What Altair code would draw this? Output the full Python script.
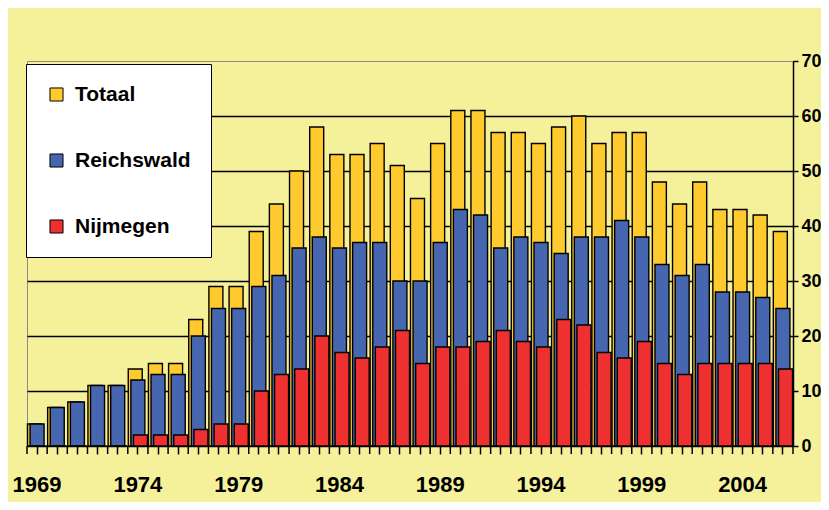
import altair as alt
import pandas as pd

years = list(range(1969, 2007))
totaal = [4, 7, 8, 11, 11, 14, 15, 15, 23, 29, 29, 39, 44, 50, 58, 53, 53, 55, 51, 45,
          55, 61, 61, 57, 57, 55, 58, 60, 55, 57, 57, 48, 44, 48, 43, 43, 42, 39]
reichswald = [4, 7, 8, 11, 11, 12, 13, 13, 20, 25, 25, 29, 31, 36, 38, 36, 37, 37, 30, 30,
              37, 43, 42, 36, 38, 37, 35, 38, 38, 41, 38, 33, 31, 33, 28, 28, 27, 25]
nijmegen = [0, 0, 0, 0, 0, 2, 2, 2, 3, 4, 4, 10, 13, 14, 20, 17, 16, 18, 21, 15,
            18, 18, 19, 21, 19, 18, 23, 22, 17, 16, 19, 15, 13, 15, 15, 15, 15, 14]

series = ["Totaal", "Reichswald", "Nijmegen"]
colors = ["#FFCA2E", "#4766B0", "#EE3030"]

df = pd.DataFrame({"year": years, "Totaal": totaal, "Reichswald": reichswald, "Nijmegen": nijmegen})

BG = "#F5F19B"
FONT = "Liberation Sans, Arial, sans-serif"
W, H = 766, 385

color_scale = alt.Scale(domain=series, range=colors)
x_scale = alt.Scale(paddingInner=0, paddingOuter=0)

x_axis = alt.Axis(
    title=None, labelAngle=0,
    labelExpr="(toNumber(datum.value) - 1969) % 5 == 0 ? datum.label : ''",
    labelFont=FONT, labelFontSize=22, labelFontWeight="bold", labelColor="black",
    tickColor="black", tickSize=8, tickWidth=1.5, ticks=True,
    domainColor="black", domainWidth=1.5, labelPadding=20, grid=False,
)

y_axis = alt.Axis(
    title=None, orient="right", values=list(range(0, 71, 10)),
    labelFont=FONT, labelFontSize=18, labelFontWeight="bold", labelColor="black",
    tickColor="black", tickSize=5, tickWidth=1.5, domainColor="black", domainWidth=1.5,
    labelPadding=3, grid=True, gridColor="black", gridWidth=1.5,
    gridOpacity={"condition": {"test": "datum.value == 0 || datum.value == 70", "value": 0}, "value": 1},
)

legend = alt.Legend(
    title=None, orient="none", legendX=-1, legendY=3,
    fillColor="white", strokeColor="black", padding=20,
    labelFont=FONT, labelFontSize=21,
    labelFontWeight="bold", labelColor="black", labelOffset=8,
    symbolType="square", symbolSize=170, symbolStrokeColor="black",
    symbolStrokeWidth=1, rowPadding=44, symbolOpacity=1,
)

offsets = [-2.6, 0, 2.6]
layers = []
for i, s in enumerate(series):
    layers.append(
        alt.Chart(df).transform_calculate(reeks=f"'{s}'")
        .mark_bar(width=14, xOffset=offsets[i], stroke="black", strokeWidth=1.4, opacity=1)
        .encode(
            x=alt.X("year:O", scale=x_scale, axis=x_axis),
            y=alt.Y(f"{s}:Q", scale=alt.Scale(domain=[0, 70]), axis=y_axis),
            color=alt.Color("reeks:N", scale=color_scale, legend=legend),
        )
    )

# category tick marks below the x axis, at each band boundary
ticks = alt.Chart(df).mark_rule(color="black", strokeWidth=1.5).encode(
    x=alt.X("year:O", bandPosition=0, scale=x_scale, axis=x_axis),
    y=alt.value(H),
    y2=alt.value(H + 8),
)
end_tick = alt.Chart(df.tail(1)).mark_rule(color="black", strokeWidth=1.5).encode(
    x=alt.X("year:O", bandPosition=1, scale=x_scale, axis=x_axis),
    y=alt.value(H),
    y2=alt.value(H + 8),
)

chart = alt.layer(*layers, ticks, end_tick).properties(
    width=W, height=H,
    padding={"left": 19, "top": 53, "right": 28, "bottom": 56},
    autosize="none",
    background=BG,
).configure_view(stroke="#8a8a8a", strokeWidth=1)

chart.save("out.html", embed_options={"renderer": "svg", "actions": False})
